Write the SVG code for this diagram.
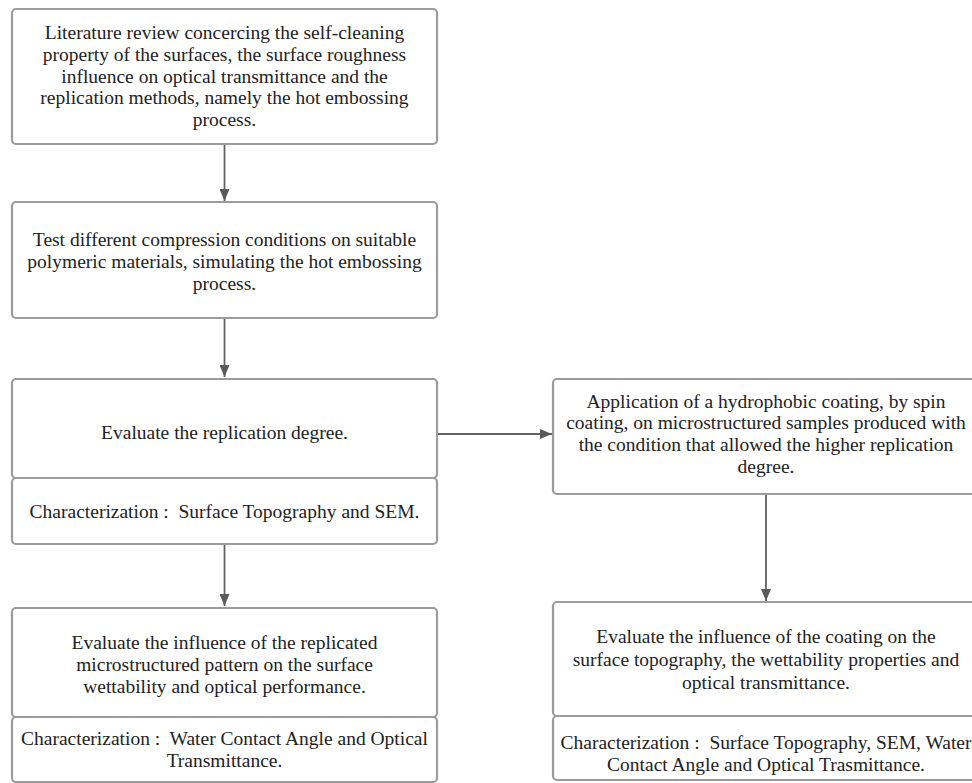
<svg xmlns="http://www.w3.org/2000/svg" width="972" height="783" viewBox="0 0 972 783">
<style>
.box{fill:#fff;stroke:#9b9b9b;stroke-width:2.2}
.t{font-family:"Liberation Serif","DejaVu Serif",serif;font-size:19.5px;fill:#222;text-anchor:middle}
.c{stroke:#606060;stroke-width:1.8;fill:none}
</style>
<defs>
<marker id="ah" viewBox="0 0 12 10" refX="12" refY="5" markerWidth="12" markerHeight="10" markerUnits="userSpaceOnUse" orient="auto">
<path d="M0,0 L12,5 L0,10 z" fill="#5a5a5a"/>
</marker>
</defs>
<rect width="972" height="783" fill="#fff"/>
<g id="connectors">
<line class="c" x1="224.5" y1="144" x2="224.5" y2="201" marker-end="url(#ah)"/>
<line class="c" x1="224.5" y1="318" x2="224.5" y2="377" marker-end="url(#ah)"/>
<line class="c" x1="224.5" y1="544" x2="224.5" y2="606" marker-end="url(#ah)"/>
<line class="c" x1="437" y1="434" x2="552" y2="434" marker-end="url(#ah)"/>
<line class="c" x1="766" y1="494" x2="766" y2="601" marker-end="url(#ah)"/>
</g>
<g id="n1">
<rect class="box" x="12" y="9" width="425" height="135" rx="4"/>
<text class="t" x="224.5" y="39">Literature review concercing the self-cleaning</text>
<text class="t" x="224.5" y="61">property of the surfaces, the surface roughness</text>
<text class="t" x="224.5" y="83">influence on optical transmittance and the</text>
<text class="t" x="224.5" y="104">replication methods, namely the hot embossing</text>
<text class="t" x="224.5" y="126">process.</text>
</g>
<g id="n2">
<rect class="box" x="12" y="202" width="425" height="116" rx="4"/>
<text class="t" x="224.5" y="246">Test different compression conditions on suitable</text>
<text class="t" x="224.5" y="268">polymeric materials, simulating the hot embossing</text>
<text class="t" x="224.5" y="290">process.</text>
</g>
<g id="n3">
<rect class="box" x="12" y="379" width="425" height="99" rx="4"/>
<rect class="box" x="12" y="478" width="425" height="66" rx="4"/>
<text class="t" x="224.5" y="439">Evaluate the replication degree.</text>
<text class="t" x="224.5" y="518">Characterization :&#160; Surface Topography and SEM.</text>
</g>
<g id="n4">
<rect class="box" x="12" y="608" width="425" height="109" rx="4"/>
<rect class="box" x="12" y="717" width="425" height="65" rx="4"/>
<text class="t" x="224.5" y="649">Evaluate the influence of the replicated</text>
<text class="t" x="224.5" y="671">microstructured pattern on the surface</text>
<text class="t" x="224.5" y="693">wettability and optical performance.</text>
<text class="t" x="224.5" y="745">Characterization :&#160; Water Contact Angle and Optical</text>
<text class="t" x="224.5" y="767">Transmittance.</text>
</g>
<g id="n5">
<rect class="box" x="553" y="379" width="426" height="115" rx="4"/>
<text class="t" x="766" y="408">Application of a hydrophobic coating, by spin</text>
<text class="t" x="766" y="429">coating, on microstructured samples produced with</text>
<text class="t" x="766" y="451">the condition that allowed the higher replication</text>
<text class="t" x="766" y="473">degree.</text>
</g>
<g id="n6">
<rect class="box" x="553" y="602" width="426" height="114" rx="4"/>
<rect class="box" x="553" y="716" width="426" height="64" rx="4"/>
<text class="t" x="766" y="643">Evaluate the influence of the coating on the</text>
<text class="t" x="766" y="666">surface topography, the wettability properties and</text>
<text class="t" x="766" y="689">optical transmittance.</text>
<text class="t" x="766" y="749">Characterization :&#160; Surface Topography, SEM, Water</text>
<text class="t" x="766" y="771">Contact Angle and Optical Trasmittance.</text>
</g>
</svg>
